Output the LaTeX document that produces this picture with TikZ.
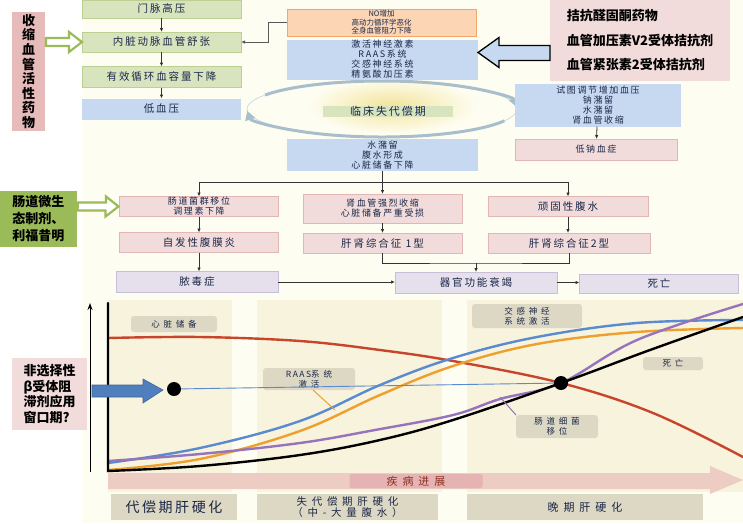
\documentclass[tikz,border=0pt]{standalone}
\usepackage{fontspec}
\setmainfont{Noto Sans CJK SC}
\newfontfamily\spc[LetterSpace=18]{Noto Sans CJK SC}
\newfontfamily\spw[LetterSpace=45]{Noto Sans CJK SC}
\usetikzlibrary{positioning,calc,arrows.meta}
\definecolor{cream}{HTML}{FEFDF1}
\definecolor{band}{HTML}{F7F3DC}
\definecolor{grnF}{HTML}{D8E4BE}
\definecolor{grnD}{HTML}{BCD191}
\definecolor{bluF}{HTML}{C6D9F1}
\definecolor{pnkF}{HTML}{F2DCDB}
\definecolor{pnkD}{HTML}{E2B6B4}
\definecolor{roseF}{HTML}{E6BBBA}
\definecolor{lavF}{HTML}{E5E0EC}
\definecolor{lavD}{HTML}{C9BEDA}
\definecolor{orgF}{HTML}{FCD5B5}
\definecolor{orgD}{HTML}{F2A66B}
\definecolor{navy}{HTML}{1B2748}
\definecolor{tagF}{HTML}{DDD8C4}
\definecolor{cRed}{HTML}{C8452C}
\definecolor{cBlu}{HTML}{5A8AD0}
\definecolor{cOrg}{HTML}{EE9F2E}
\definecolor{cPur}{HTML}{9673BC}
\definecolor{arcC}{HTML}{A8BECA}
\definecolor{glowC}{HTML}{F2E49A}
\definecolor{drugG}{HTML}{9BBB59}
\definecolor{progF}{HTML}{EDCCC3}
\definecolor{progD}{HTML}{E5B3B3}
\definecolor{bigB}{HTML}{4F7FBD}

\begin{document}
\begin{tikzpicture}
[x=1pt,y=-1pt,
 every node/.style={inner sep=0pt,outer sep=0pt,text=navy,align=center},
 sz/.style 2 args={minimum width=#1pt,minimum height=#2pt},
 grn/.style={rectangle,fill=grnF,draw=grnD,line width=0.6pt},
 blu/.style={rectangle,fill=bluF},
 pnk/.style={rectangle,fill=pnkF,draw=pnkD,line width=0.6pt},
 lav/.style={rectangle,fill=lavF,draw=lavD,line width=0.6pt},
 org/.style={rectangle,fill=orgF,draw=orgD,line width=0.6pt},
 tag/.style={rectangle,rounded corners=3pt,fill=tagF,font=\fontsize{8.5}{10}\selectfont\spw},
 stg/.style={rectangle,fill=tagF},
 drug/.style={rectangle,text=black,font=\fontsize{13}{#1}\selectfont\bfseries},
 ft/.style={font=\fontsize{10.5}{12}\selectfont\spc},
 fs/.style={font=\fontsize{9}{10}\selectfont\spc},
 fx/.style={font=\fontsize{7.5}{8.6}\selectfont},
 dot/.style={circle,fill=black,minimum size=14pt},
 arr/.style={-{Latex[length=4pt,width=3.5pt]},draw=black!80,line width=0.8pt},
 ln/.style={draw=black!80,line width=0.8pt},
 cv/.style={line width=2.4pt,line cap=round}]
\useasboundingbox (0,0) rectangle (743,523);
% background panels
\fill[cream] (82,0) rectangle (743,523);
\fill[band] (108,300) rectangle (232,492);
\fill[band] (257,300) rectangle (442,492);
\fill[band] (467,300) rectangle (743,492);

% decompensation cycle (behind the boxes)
\coordinate (ctr) at (382,109);
\shade[inner color=glowC,outer color=cream] (392,106) ellipse [x radius=85pt,y radius=28pt];
\draw[arcC!55,line width=0.8pt] (ctr) ellipse [x radius=135pt,y radius=28pt];
\draw[arcC,line width=3pt,-{Triangle[length=9pt,width=10pt]}]
  ([shift={(150:135pt and 28pt)}]ctr) arc[start angle=150,end angle=4,x radius=135pt,y radius=28pt];
\draw[arcC,line width=3pt,-{Triangle[length=9pt,width=10pt]}]
  ([shift={(-25:135pt and 28pt)}]ctr) arc[start angle=-25,end angle=-176,x radius=135pt,y radius=28pt];
\node[fill=grnF,sz={130}{11},font=\fontsize{11}{12}\selectfont\spc] (dec) at (388,111) {临床失代偿期};

% upper flow
\node[grn,sz={159}{18},ft] (pv)   at (161.5,9)   {门脉高压};
\node[grn,sz={159}{20},ft] (vd)   at (161.5,42)  {内脏动脉血管舒张};
\node[grn,sz={159}{21},ft] (ecv)  at (161.5,77)  {有效循环血容量下降};
\node[blu,sz={159}{21},ft] (lbp)  at (161.5,109) {低血压};
\node[org,sz={189}{27},fx] (no)   at (381.5,22.5) {NO增加\\高动力循环学恶化\\全身血管阻力下降};
\node[blu,sz={191}{40},fs] (neuro) at (382.5,59.5) {激活神经激素\\RAAS系统\\交感神经系统\\精氨酸加压素};
\node[blu,sz={166}{43},fs] (reg)  at (598,105)   {试图调节增加血压\\钠潴留\\水潴留\\肾血管收缩};
\node[pnk,sz={162}{21},fs] (hypo) at (596,149.5) {低钠血症};
\node[blu,sz={191}{32},fs] (ret)  at (382.5,155) {水潴留\\腹水形成\\心脏储备下降};

% lower flow
\node[pnk,sz={159}{20},fs] (gut)  at (199,206.5) {肠道菌群移位\\调理素下降};
\node[pnk,sz={159}{20},ft] (sbp)  at (199,242.5) {自发性腹膜炎};
\node[lav,sz={162}{21},ft] (sep)  at (197,282)   {脓毒症};
\node[pnk,sz={159}{29},fs] (ren)  at (382.5,208.5) {肾血管强烈收缩\\心脏储备严重受损};
\node[pnk,sz={159}{20},ft] (hrs1) at (382.5,243) {肝肾综合征 1型};
\node[pnk,sz={160}{20},ft] (ra)   at (568,206.5) {顽固性腹水};
\node[pnk,sz={162}{20},ft] (hrs2) at (569,243)   {肝肾综合征2型};
\node[lav,sz={162}{21},ft] (mof)  at (476,282.5) {器官功能衰竭};
\node[lav,sz={159}{19},ft] (death) at (659,283.5) {死亡};

% drug boxes
\node[drug=14.6,fill=roseF,sz={33}{119}] (drA) at (28.5,71.5) {收\\缩\\血\\管\\活\\性\\药\\物};
\node[drug=24.5,fill=pnkF,sz={180}{81},align=left] (drB) at (640,40.5) {拮抗醛固酮药物\\血管加压素V2受体拮抗剂\\血管紧张素2受体拮抗剂};
\node[drug=17,fill=drugG,sz={77}{56},align=left] (drC) at (38.5,219) {肠道微生\\态制剂、\\利福昔明};
\node[drug=15.5,fill=pnkF,sz={75}{72},align=left] (drD) at (49.5,394) {非选择性\\β受体阻\\滞剂应用\\窗口期?};

% flow connectors
\draw[arr] (pv) -- (vd);
\draw[arr] (vd) -- (ecv);
\draw[arr] (ecv) -- (lbp);
\draw[arr,draw=black!65] (no.west) -- ++(-19,0) |- (vd.east);
\draw[arr] (reg) -- (hypo);
\draw[ln] (ret.south) -- ++(0,11) coordinate (br);
\draw[arr] (br) -| (gut.north);
\draw[arr] (br) -| (ra.north);
\draw[arr] (br) -- (ren.north);
\draw[arr] (gut) -- (sbp);
\draw[arr] (sbp.south) -- (sbp.south |- sep.north);
\draw[arr] (ren) -- (hrs1);
\draw[arr] (ra.south) -- (ra.south |- hrs2.north);
\coordinate (jn) at ($(mof.north)+(0,-9)$);
\draw[ln] (hrs1.south) |- (jn) -| (hrs2.south);
\draw[arr] (jn) -- (mof.north);
\draw[arr] (sep.east) -- (sep.east -| mof.west);
\draw[arr] (mof.east) -- (mof.east -| death.west);

% block arrows from the drugs
\draw[drugG,line width=2.2pt,fill=white,line join=miter]
  ($(drA.east |- vd.west)+(1,-4)$) -- ++(23,0) -- ++(0,-6) -- (vd.west)
  -- ++(-13,10) -- ++(0,-6) -- ++(-23,0) -- cycle;
\draw[drugG,line width=2.2pt,fill=white,line join=miter]
  ($(drC.east |- gut.west)+(1,-4)$) -- ++(28,0) -- ++(0,-6) -- ($(gut.west)+(-1,0)$)
  -- ++(-13,10) -- ++(0,-6) -- ++(-28,0) -- cycle;
\coordinate (tipB) at ($(neuro.east)+(0,-7)$);
\draw[black,line width=1.3pt,fill=bluF,line join=miter]
  (tipB) -- ++(21,-15) -- ++(0,8) -- ($(drB.west |- tipB)+(0,-7)$) -- ++(0,15)
  -- ($(tipB)+(21,8)$) -- ++(0,7) -- cycle;

% chart
\draw[cv,cRed] plot[smooth,tension=0.6] coordinates
  {(108,338) (200,337) (300,341) (380,350) (453,361) (561,383) (653,413) (743,457)};
\draw[cv,cOrg] plot[smooth,tension=0.6] coordinates
  {(108,470) (200,459) (300,431) (380,395) (453,366) (537,344) (637,332) (743,328)};
\draw[cv,cBlu] plot[smooth,tension=0.6] coordinates
  {(108,463) (200,448) (300,421) (380,385) (453,358) (537,337) (637,323) (743,320)};
\draw[cv,cPur] plot[smooth,tension=0.6] coordinates
  {(108,461) (200,454) (300,443) (375,430) (453,415) (500,399) (561,383) (637,340) (743,304)};
\draw[cv,black] (108,303) -- plot[smooth,tension=0.6] coordinates
  {(108,471) (200,466) (300,455) (380,440) (453,420) (561,383) (650,350) (743,317)};
\draw[-{Stealth[length=7pt,width=5pt]},line width=1pt] (90,472) -- (90,303);

% progression arrow
\fill[progF] (108,473) -- (710,473) -- (710,466) -- (743,480) -- (710,494) -- (710,489) -- (108,489) -- cycle;
\node[rectangle,rounded corners=2pt,fill=progD,sz={133}{14},text=cRed!70!black,font=\fontsize{11}{12}\selectfont\spw] (prog) at (416,481) {疾病进展};

% chart labels
\node[tag,sz={86}{16}] (tHR) at (174,324)   {心脏储备};
\node[tag,sz={92}{22}] (tRA) at (309,379)   {{\spc RAAS}系统\\激活};
\node[tag,sz={110}{24}] (tSN) at (527,316)  {交感神经\\系统激活};
\node[tag,sz={60}{13}] (tDE) at (673,363.5) {死亡};
\node[tag,sz={82}{23}] (tGB) at (557,426.5) {肠道细菌\\移位};
\coordinate (oc) at (335,410);
\coordinate (pc) at (500,397);
\draw[cOrg,line width=1pt] (tRA.-70) -- (oc);
\draw[cPur,line width=1pt] (tGB.north west) -- (pc);

% stage labels
\node[stg,sz={126}{26},font=\fontsize{14}{16}\selectfont\spc] (s1) at (174,507) {代偿期肝硬化};
\node[stg,sz={181}{26},font=\fontsize{10.5}{11.5}\selectfont\spw] (s2) at (347.5,507) {失代偿期肝硬化\\（中-大量腹水）};
\node[stg,sz={236}{26},font=\fontsize{11}{12}\selectfont\spw] (s3) at (585,507) {晚期肝硬化};

% window of the beta blockers
\node[dot] (p1) at (174,389) {};
\node[dot] (p2) at (561,383) {};
\draw[cBlu,line width=0.9pt] (p1) -- (p2);
\draw[bigB!80!black,fill=bigB,line width=0.6pt,line join=miter]
  ($(drD.east)+(5,-9)$) -- ++(51,0) -- ++(0,-6) -- ($(p1.west)+(-4,1)$)
  -- ++(-20,13) -- ++(0,-6) -- ++(-51,0) -- cycle;
\end{tikzpicture}
\end{document}
